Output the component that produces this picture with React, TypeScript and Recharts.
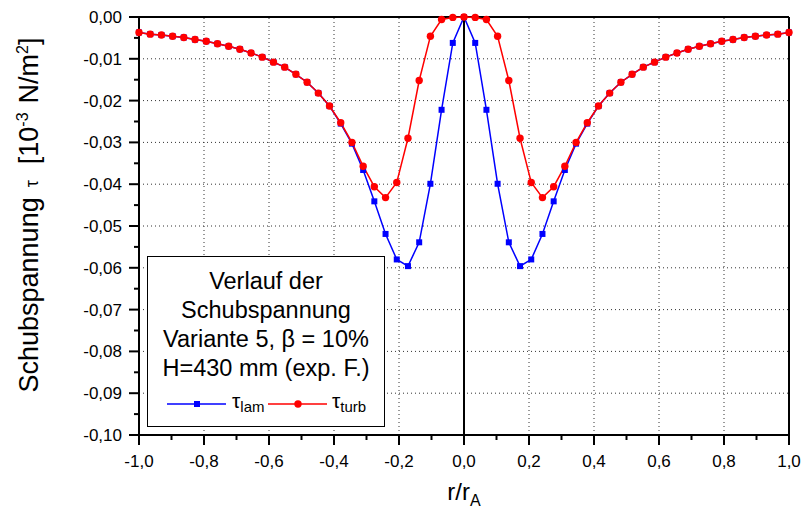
import React from "react";
import { LineChart, Line, XAxis, YAxis, ReferenceLine } from "recharts";

const FONT = "'Liberation Sans', Arial, sans-serif";

const xValues = [
  -1.0, -0.9655, -0.931, -0.8966, -0.8621, -0.8276, -0.7931, -0.7586, -0.7241, -0.6897,
  -0.6552, -0.6207, -0.5862, -0.5517, -0.5172, -0.4828, -0.4483, -0.4138, -0.3793, -0.3448,
  -0.3103, -0.2759, -0.2414, -0.2069, -0.1724, -0.1379, -0.1034, -0.069, -0.0345, 0.0,
  0.0345, 0.069, 0.1034, 0.1379, 0.1724, 0.2069, 0.2414, 0.2759, 0.3103, 0.3448,
  0.3793, 0.4138, 0.4483, 0.4828, 0.5172, 0.5517, 0.5862, 0.6207, 0.6552, 0.6897,
  0.7241, 0.7586, 0.7931, 0.8276, 0.8621, 0.8966, 0.931, 0.9655, 1.0,
];

// tau_lam (blue squares)
const lamValues = [
  -0.0037, -0.0041, -0.0043, -0.0046, -0.0049, -0.0054, -0.0058, -0.0064, -0.007, -0.0077,
  -0.0086, -0.0096, -0.0108, -0.012, -0.0137, -0.0156, -0.0182, -0.0213, -0.0255, -0.0303,
  -0.0366, -0.0441, -0.0519, -0.058, -0.0596, -0.0539, -0.0399, -0.0222, -0.0062, 0.0,
  -0.0062, -0.0222, -0.0399, -0.0539, -0.0596, -0.058, -0.0519, -0.0441, -0.0366, -0.0303,
  -0.0255, -0.0213, -0.0182, -0.0156, -0.0137, -0.012, -0.0108, -0.0096, -0.0086, -0.0077,
  -0.007, -0.0064, -0.0058, -0.0054, -0.0049, -0.0046, -0.0043, -0.0041, -0.0037,
];

// tau_turb (red circles)
const turbValues = [
  -0.0037, -0.0041, -0.0043, -0.0046, -0.0049, -0.0054, -0.0058, -0.0064, -0.007, -0.0077,
  -0.0086, -0.0096, -0.0108, -0.012, -0.0137, -0.0156, -0.0182, -0.0213, -0.0253, -0.03,
  -0.0357, -0.0406, -0.0432, -0.0396, -0.029, -0.0152, -0.0046, -0.0006, -0.0001, 0.0,
  -0.0001, -0.0006, -0.0046, -0.0152, -0.029, -0.0396, -0.0432, -0.0406, -0.0357, -0.03,
  -0.0253, -0.0213, -0.0182, -0.0156, -0.0137, -0.012, -0.0108, -0.0096, -0.0086, -0.0077,
  -0.007, -0.0064, -0.0058, -0.0054, -0.0049, -0.0046, -0.0043, -0.0041, -0.0037,
];

const xTicks = [-1, -0.9, -0.8, -0.7, -0.6, -0.5, -0.4, -0.3, -0.2, -0.1, 0, 0.1, 0.2, 0.3, 0.4, 0.5, 0.6, 0.7, 0.8, 0.9, 1];
const yTicks = [
  -0.1, -0.095, -0.09, -0.085, -0.08, -0.075, -0.07, -0.065, -0.06, -0.055, -0.05,
  -0.045, -0.04, -0.035, -0.03, -0.025, -0.02, -0.015, -0.01, -0.005, 0,
];
const xGrid = [-0.8, -0.6, -0.4, -0.2, 0.2, 0.4, 0.6, 0.8];
const yGrid = [-0.09, -0.08, -0.07, -0.06, -0.05, -0.04, -0.03, -0.02, -0.01];

const data = xValues.map((x, i) => ({ x, lam: lamValues[i], turb: turbValues[i] }));

function XTick({ x, y, payload }: any) {
  const v = payload.value;
  const major = Math.abs(Math.round(v * 10)) % 2 === 0;
  return (
    <g>
      <line x1={x} x2={x} y1={y} y2={y + (major ? 10 : 5)} stroke="#000" strokeWidth={2} />
      {major && (
        <text x={x} y={y + 32} textAnchor="middle" fontSize={17} fontFamily={FONT} fill="#000">
          {v.toFixed(1).replace(".", ",")}
        </text>
      )}
    </g>
  );
}

function YTick({ x, y, payload }: any) {
  const v = payload.value;
  const major = Math.abs(Math.round(v * 200)) % 2 === 0;
  return (
    <g>
      <line x1={x} x2={x - (major ? 10 : 5)} y1={y} y2={y} stroke="#000" strokeWidth={2} />
      {major && (
        <text x={x - 17} y={y + 6} textAnchor="end" fontSize={17} fontFamily={FONT} fill="#000">
          {v.toFixed(2).replace(".", ",")}
        </text>
      )}
    </g>
  );
}

function YLabel() {
  return (
    <text transform="translate(38,215) rotate(-90)" textAnchor="middle" fontSize={27} fontFamily={FONT} fill="#000">
      Schubspannung
      <tspan dx={10} fontSize={18}>τ</tspan>
      <tspan dx={16}>[10</tspan>
      <tspan dy={-10} fontSize={16}>-3</tspan>
      <tspan dy={10} dx={9}>N/m</tspan>
      <tspan dy={-10} fontSize={16}>2</tspan>
      <tspan dy={10}>]</tspan>
    </text>
  );
}

function XLabel() {
  return (
    <text x={464} y={500} textAnchor="middle" fontSize={24} fontFamily={FONT} fill="#000">
      r/r
      <tspan dy={6} fontSize={16}>A</tspan>
    </text>
  );
}

const squareDot = (p: any) => (
  <rect key={`s${p.index}`} x={p.cx - 3} y={p.cy - 3} width={6} height={6} fill="#0000ff" />
);
const circleDot = (p: any) => <circle key={`c${p.index}`} cx={p.cx} cy={p.cy} r={3.7} fill="#ff0000" />;

export default function App() {
  return (
    <div style={{ position: "absolute", left: 0, top: 0, width: 802, height: 510, background: "#fff" }}>
      <LineChart width={802} height={510} data={data} margin={{ top: 17, right: 13, bottom: 0, left: 0 }}>
        {xGrid.map((v) => (
          <ReferenceLine key={`gx${v}`} x={v} stroke="#333" strokeDasharray="1 3" />
        ))}
        {yGrid.map((v) => (
          <ReferenceLine key={`gy${v}`} y={v} stroke="#333" strokeDasharray="1 3" />
        ))}
        <ReferenceLine x={0} stroke="#000" strokeWidth={2} />
        <ReferenceLine x={1} stroke="#000" strokeWidth={2} />
        <ReferenceLine y={0} stroke="#000" strokeWidth={2} />
        <XAxis
          dataKey="x"
          type="number"
          domain={[-1, 1]}
          ticks={xTicks}
          interval={0}
          height={75}
          tickSize={0}
          tickMargin={0}
          tick={<XTick />}
          axisLine={{ stroke: "#000", strokeWidth: 2 }}
          label={<XLabel />}
        />
        <YAxis
          type="number"
          domain={[-0.1, 0]}
          ticks={yTicks}
          interval={0}
          width={139}
          tickSize={0}
          tickMargin={0}
          tick={<YTick />}
          axisLine={{ stroke: "#000", strokeWidth: 2 }}
          label={<YLabel />}
        />
        <Line dataKey="lam" stroke="#0000ff" strokeWidth={1.5} dot={squareDot} isAnimationActive={false} />
        <Line dataKey="turb" stroke="#ff0000" strokeWidth={1.5} dot={circleDot} isAnimationActive={false} />
      </LineChart>

      <div
        style={{
          position: "absolute",
          left: 147,
          top: 256,
          width: 238,
          height: 171,
          boxSizing: "border-box",
          border: "1px solid #000",
          background: "#fff",
          fontFamily: FONT,
          fontSize: 23.5,
          lineHeight: "29px",
          textAlign: "center",
          paddingTop: 10,
          color: "#000",
        }}
      >
        <div>Verlauf der</div>
        <div>Schubspannung</div>
        <div>Variante 5, β = 10%</div>
        <div>H=430 mm (exp. F.)</div>
        <svg style={{ position: "absolute", left: 0, top: 133 }} width={236} height={34}>
          <line x1={19} x2={78} y1={14} y2={14} stroke="#0000ff" strokeWidth={1.5} />
          <rect x={46} y={11} width={6} height={6} fill="#0000ff" />
          <text x={84} y={18} fontSize={21} fontFamily={FONT}>
            τ<tspan dy={4} fontSize={15}>lam</tspan>
          </text>
          <line x1={120} x2={179} y1={14} y2={14} stroke="#ff0000" strokeWidth={1.5} />
          <circle cx={150} cy={14} r={3.7} fill="#ff0000" />
          <text x={184} y={18} fontSize={21} fontFamily={FONT}>
            τ<tspan dy={4} fontSize={15}>turb</tspan>
          </text>
        </svg>
      </div>
    </div>
  );
}
